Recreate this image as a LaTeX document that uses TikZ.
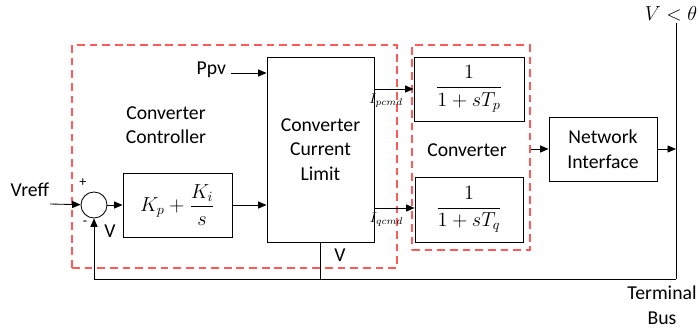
\documentclass[tikz,border=0pt]{standalone}
\usepackage{fontspec}
\setmainfont{Carlito}
\usepackage{amsmath}
\usetikzlibrary{positioning,arrows.meta}

\begin{document}
\begin{tikzpicture}[x=0.025cm,y=-0.025cm,
  blk/.style={draw,line width=0.6pt,align=center,inner sep=1pt,font=\fontsize{14}{17.5}\selectfont},
  grp/.style={draw=red!65,dash pattern=on 5.5pt off 3.5pt,line width=0.9pt,inner sep=0pt},
  sum/.style={draw,circle,line width=0.6pt,minimum size=0.65cm,inner sep=0pt},
  sig/.style={->,>={Triangle[length=6pt,width=5pt]},line width=0.6pt},
  wire/.style={line width=0.6pt},
  lbl/.style={font=\fontsize{14}{17.5}\selectfont,align=center},
  sml/.style={font=\fontsize{10}{11}\selectfont},
]
\useasboundingbox (0,0) rectangle (699,329);
% ---------- dashed groups ----------
\node[grp,minimum width=8.125cm,minimum height=5.575cm] (ctrlgrp) at (234.5,156.5) {};
\node[grp,minimum width=2.95cm,minimum height=5.125cm]  (convgrp) at (471,147.5) {};
% ---------- controller ----------
\node[sum] (sum) at (94,205) {};
\node[blk,minimum width=2.725cm,minimum height=1.6cm] (pi) at (177.5,205)
  {$K_p+\dfrac{K_i}{s}$};
\node[blk,minimum width=2.675cm,minimum height=4.625cm] (curlim) at (320.5,149.5)
  {Converter\\Current\\Limit};
\node[lbl] at (166,125) {Converter\\Controller};
\node[lbl,anchor=east] (vref) at (54,190) {Vreff};
\coordinate (vrefin) at (50,204);
\node[lbl,anchor=east] (ppv) at (231,70) {Ppv};
\node[sml] at (83,183) {+};
\node[sml] at (85,223) {-};
\node[lbl] at (110,231) {V};
\draw[sig] (vrefin) -- (sum);
\draw[sig] (sum) -- (pi);
\draw[sig] (pi) -- (pi -| curlim.west);
\draw[sig] (ppv.east |- 0,73) -- (curlim.west |- 0,73);
% ---------- converter ----------
\node[blk,minimum width=2.75cm,minimum height=1.6cm] (tp) at (469,89)
  {$\dfrac{1}{1+sT_p}$};
\node[blk,minimum width=2.7cm,minimum height=1.625cm] (tq) at (469,209.5)
  {$\dfrac{1}{1+sT_q}$};
\node[lbl] at (467,150) {Converter};
\draw[sig] (curlim.east |- tp.west) -- (tp.west) node[sml,pos=0.3,below=0pt] {$I_{pcmd}$};
\draw[sig] (curlim.east |- 0,208) -- (tq.west |- 0,208) node[sml,pos=0.3,below=0pt] {$I_{qcmd}$};
% ---------- network and bus ----------
\node[blk,minimum width=2.7cm,minimum height=1.6cm] (netif) at (603,149) {Network\\Interface};
\coordinate (bustop) at (676,23);
\coordinate (busbot) at (676,279);
\draw[wire] (bustop) -- (busbot);
\node[lbl,anchor=east,inner sep=1pt] at (699,14) {$V<\theta$};
\node[lbl,anchor=north] at (662,281) {Terminal\\Bus};
\draw[sig] (netif.west -| convgrp.east) -- (netif.west);
\draw[sig] (netif) -- (netif -| bustop);
% ---------- feedback ----------
\coordinate (vtap) at (320,279);
\draw[sig] (busbot) -| (sum.south);
\draw[wire] (curlim.south) -- (curlim.south |- vtap);
\node[lbl] at (340,255) {V};
\end{tikzpicture}
\end{document}
